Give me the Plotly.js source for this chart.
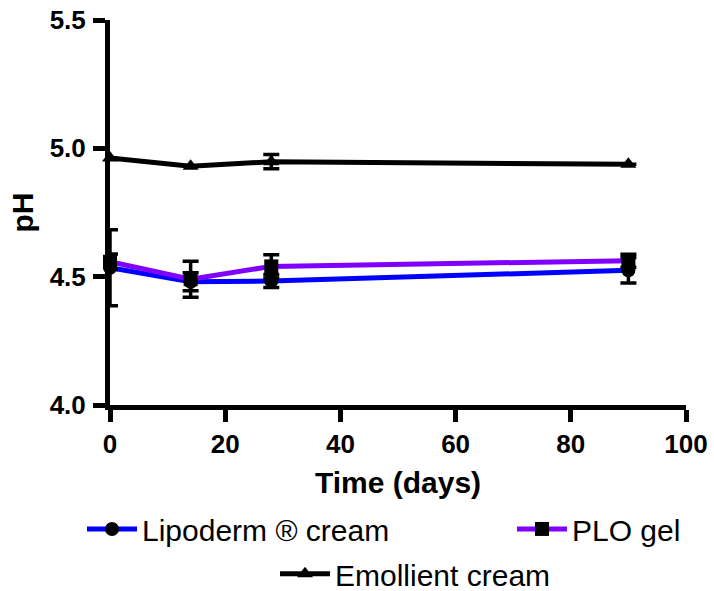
<!DOCTYPE html>
<html>
<head>
<meta charset="utf-8">
<script src="https://cdn.plot.ly/plotly-3.0.1.min.js"></script>
<style>html,body{margin:0;padding:0;background:#fff;}#chart{width:714px;height:591px;}</style>
</head>
<body>
<div id="chart"></div>
<script>
const days = [0, 14, 28, 90];
const lipoderm = [4.535, 4.48, 4.483, 4.525];
const lipodermErr = [0.148, 0.035, 0.025, 0.05];
const plo = [4.558, 4.49, 4.54, 4.562];
const ploErr = [0.03, 0.07, 0.045, 0.025];
const emollient = [4.962, 4.93, 4.948, 4.938];
const emollientErr = [0, 0, 0.028, 0];
const seriesNames = ['Lipoderm \u00AE cream', 'PLO gel', 'Emollient cream'];
const xTicks = [0, 20, 40, 60, 80, 100];
const yTicks = [4.0, 4.5, 5.0, 5.5];

function mk(y, err, name, color, symbol, legend) {
  return {
    x: days, y: y, name: name, type: 'scatter', mode: 'lines+markers',
    line: {color: color, width: 5},
    marker: {color: '#000', symbol: symbol, size: 14},
    error_y: {type: 'data', array: err, visible: true, color: '#000', thickness: 3.5, width: 8},
    cliponaxis: false, legend: legend
  };
}

const traces = [
  mk(lipoderm, lipodermErr, seriesNames[0], '#0000ff', 'circle', 'legend'),
  mk(plo, ploErr, seriesNames[1], '#8000ff', 'square', 'legend2'),
  mk(emollient, emollientErr, seriesNames[2], '#000000', 'triangle-up', 'legend3')
];

const legFont = {family: 'Liberation Sans, Arial, sans-serif', size: 30, color: '#000'};
function leg(x, y) {
  return {orientation: 'h', xref: 'container', yref: 'container', x: x, xanchor: 'left',
          y: y, yanchor: 'middle', font: legFont, bgcolor: 'rgba(0,0,0,0)', itemwidth: 50};
}
const tickFont = {family: 'Liberation Sans, Arial', size: 26, color: '#000', weight: 'bold'};
const titleFont = {family: 'Liberation Sans, Arial', size: 30, color: '#000', weight: 'bold'};

const layout = {
  width: 714, height: 591,
  margin: {l: 110, r: 28, t: 20, b: 186},
  paper_bgcolor: '#fff', plot_bgcolor: '#fff',
  font: {family: 'Liberation Sans, Arial', color: '#000'},
  showlegend: true,
  xaxis: {
    range: [0, 100], tickvals: xTicks, ticktext: xTicks.map(String),
    showline: true, linewidth: 5, linecolor: '#000',
    ticks: 'outside', ticklen: 12, tickwidth: 5, tickcolor: '#000',
    showgrid: false, zeroline: false, automargin: false,
    tickfont: tickFont,
    title: {text: 'Time (days)', font: titleFont, standoff: 15}
  },
  yaxis: {
    range: [4.0, 5.5], tickvals: yTicks, ticktext: yTicks.map(v => v.toFixed(1)),
    showline: true, linewidth: 5, linecolor: '#000',
    ticks: 'outside', ticklen: 12, tickwidth: 5, tickcolor: '#000',
    showgrid: false, zeroline: false, automargin: false,
    tickfont: tickFont, ticklabelstandoff: 2,
    title: {text: 'pH', font: titleFont, standoff: 9}
  },
  legend: leg(82 / 714, 0.105),
  legend2: leg(512 / 714, 0.105),
  legend3: leg(275 / 714, 0.029)
};

Plotly.newPlot('chart', traces, layout, {displayModeBar: false, staticPlot: true});
</script>
</body>
</html>
